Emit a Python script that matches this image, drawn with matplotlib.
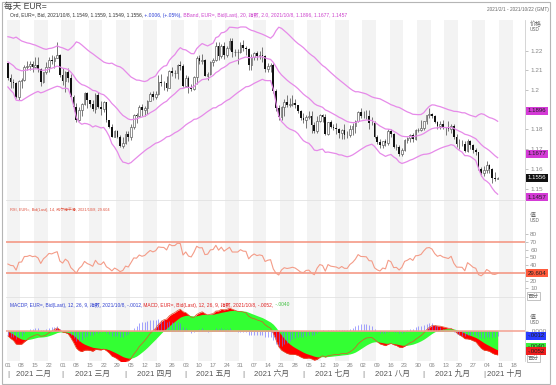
import numpy as np
import pandas as pd
import matplotlib
matplotlib.use('Agg')
import matplotlib.pyplot as plt
from matplotlib.patches import Rectangle

plt.rcParams['font.family'] = ['Liberation Sans', 'Noto Sans CJK SC', 'DejaVu Sans']

W, H = 556, 385

# ---------------- data (EUR= daily, 2021/2/1 .. 2021/10/8) ----------------
OPEN = [1.2137,1.2061,1.2040,1.2035,1.1963,1.2047,1.2050,1.2119,1.2120,1.2133,1.2119,1.2125,1.2106,1.2040,1.2090,1.2117,1.2155,1.2150,1.2165,1.2177,
        1.2075,1.2048,1.2091,1.2063,1.1965,1.1915,1.1848,1.1900,1.1928,1.1986,1.1950,1.1930,1.1902,1.1976,1.1915,1.1905,1.1938,1.1850,1.1815,1.1762,1.1794,1.1763,1.1718,
        1.1730,1.1778,1.1762,1.1813,1.1875,1.1871,1.1915,1.1899,1.1910,1.1946,1.1980,1.1965,1.1982,1.2039,1.2035,1.2034,1.2013,1.2098,1.2086,1.2088,1.2126,1.2123,
        1.2020,1.2061,1.2015,1.2005,1.2066,1.2165,1.2148,1.2151,1.2074,1.2080,1.2145,1.2151,1.2225,1.2172,1.2226,1.2180,1.2213,1.2249,1.2193,1.2193,1.2193,
        1.2228,1.2213,1.2211,1.2128,1.2166,1.2190,1.2172,1.2180,1.2173,1.2107,1.2120,1.2125,1.1996,1.1908,1.1863,1.1915,1.1940,1.1925,1.1930,1.1937,1.1925,1.1894,
        1.1857,1.1848,1.1865,1.1867,1.1822,1.1792,1.1842,1.1874,1.1862,1.1775,1.1838,1.1813,1.1806,1.1800,1.1780,1.1796,1.1771,1.1770,1.1800,1.1817,1.1844,1.1888,
        1.1871,1.1870,1.1868,1.1835,1.1833,1.1762,1.1735,1.1720,1.1740,1.1730,1.1794,1.1779,1.1710,1.1712,1.1677,1.1697,1.1746,1.1756,1.1772,1.1753,1.1795,1.1798,
        1.1808,1.1843,1.1875,1.1880,1.1870,1.1838,1.1817,1.1826,1.1813,1.1807,1.1802,1.1817,1.1764,1.1727,1.1726,1.1725,1.1690,1.1740,1.1720,1.1695,1.1684,1.1600,
        1.1580,1.1595,1.1620,1.1598,1.1555,1.1549]
HIGH = [1.2140,1.2080,1.2057,1.2040,1.2050,1.2062,1.2129,1.2150,1.2149,1.2150,1.2169,1.2170,1.2110,1.2093,1.2145,1.2170,1.2180,1.2175,1.2243,1.2183,
        1.2113,1.2098,1.2114,1.2080,1.1975,1.1932,1.1912,1.1933,1.1990,1.1990,1.1950,1.1952,1.1986,1.1989,1.1944,1.1944,1.1940,1.1850,1.1830,1.1799,1.1798,1.1771,1.1762,
        1.1790,1.1792,1.1826,1.1878,1.1883,1.1926,1.1928,1.1917,1.1949,1.1990,1.1994,1.1995,1.2079,1.2080,1.2048,1.2070,1.2103,1.2116,1.2102,1.2130,1.2150,1.2130,
        1.2077,1.2072,1.2030,1.2070,1.2173,1.2180,1.2181,1.2160,1.2090,1.2150,1.2165,1.2245,1.2245,1.2236,1.2244,1.2225,1.2266,1.2262,1.2210,1.2210,1.2242,
        1.2254,1.2225,1.2215,1.2185,1.2194,1.2196,1.2196,1.2218,1.2180,1.2135,1.2140,1.2139,1.2005,1.1925,1.1921,1.1955,1.1975,1.1960,1.1975,1.1954,1.1926,1.1900,
        1.1885,1.1875,1.1895,1.1895,1.1838,1.1868,1.1880,1.1880,1.1878,1.1838,1.1850,1.1826,1.1833,1.1810,1.1804,1.1830,1.1790,1.1822,1.1832,1.1849,1.1895,1.1909,
        1.1892,1.1898,1.1900,1.1865,1.1841,1.1770,1.1750,1.1741,1.1750,1.1804,1.1805,1.1780,1.1726,1.1719,1.1704,1.1750,1.1764,1.1778,1.1780,1.1802,1.1810,1.1846,
        1.1845,1.1875,1.1909,1.1885,1.1876,1.1844,1.1845,1.1848,1.1815,1.1845,1.1830,1.1828,1.1778,1.1750,1.1745,1.1740,1.1750,1.1747,1.1725,1.1705,1.1687,1.1610,
        1.1613,1.1640,1.1626,1.1603,1.1585,1.1559]
LOW = [1.2051,1.2011,1.2013,1.1958,1.1952,1.2013,1.2046,1.2100,1.2102,1.2092,1.2112,1.2091,1.2023,1.2035,1.2081,1.2090,1.2130,1.2110,1.2161,1.2064,
       1.2027,1.1992,1.2040,1.1962,1.1892,1.1836,1.1843,1.1868,1.1925,1.1910,1.1912,1.1892,1.1884,1.1910,1.1875,1.1887,1.1839,1.1808,1.1760,1.1762,1.1758,1.1712,1.1704,
       1.1725,1.1740,1.1747,1.1805,1.1834,1.1861,1.1868,1.1871,1.1877,1.1945,1.1950,1.1956,1.1975,1.2020,1.2002,1.1995,1.2010,1.2072,1.2060,1.2058,1.2100,1.2016,
       1.2017,1.1986,1.1993,1.2000,1.2030,1.2130,1.2130,1.2072,1.2052,1.2078,1.2122,1.2150,1.2152,1.2165,1.2160,1.2170,1.2203,1.2170,1.2175,1.2133,1.2188,
       1.2200,1.2180,1.2104,1.2103,1.2154,1.2154,1.2160,1.2144,1.2093,1.2093,1.2094,1.1987,1.1892,1.1847,1.1848,1.1870,1.1914,1.1915,1.1920,1.1910,1.1885,1.1847,
       1.1835,1.1807,1.1855,1.1782,1.1782,1.1780,1.1837,1.1838,1.1773,1.1772,1.1807,1.1795,1.1779,1.1755,1.1752,1.1752,1.1755,1.1760,1.1770,1.1781,1.1840,1.1856,
       1.1860,1.1853,1.1800,1.1821,1.1755,1.1725,1.1706,1.1705,1.1715,1.1723,1.1764,1.1706,1.1694,1.1666,1.1664,1.1690,1.1730,1.1735,1.1735,1.1746,1.1785,1.1792,
       1.1795,1.1830,1.1857,1.1856,1.1834,1.1801,1.1802,1.1805,1.1770,1.1790,1.1780,1.1750,1.1709,1.1700,1.1714,1.1685,1.1684,1.1700,1.1680,1.1668,1.1592,1.1563,
       1.1562,1.1580,1.1580,1.1529,1.1540,1.1549]
CLOSE = [1.2061,1.2040,1.2035,1.1963,1.2047,1.2050,1.2119,1.2120,1.2133,1.2119,1.2125,1.2106,1.2040,1.2090,1.2117,1.2155,1.2150,1.2165,1.2177,1.2075,
         1.2048,1.2091,1.2063,1.1965,1.1915,1.1848,1.1900,1.1928,1.1986,1.1950,1.1930,1.1902,1.1976,1.1915,1.1905,1.1938,1.1850,1.1815,1.1762,1.1794,1.1763,1.1718,1.1730,
         1.1778,1.1762,1.1813,1.1875,1.1871,1.1915,1.1899,1.1910,1.1946,1.1980,1.1965,1.1982,1.2039,1.2035,1.2034,1.2013,1.2098,1.2086,1.2088,1.2126,1.2123,1.2020,
         1.2061,1.2015,1.2005,1.2066,1.2165,1.2148,1.2151,1.2074,1.2080,1.2145,1.2151,1.2225,1.2172,1.2226,1.2180,1.2213,1.2249,1.2193,1.2193,1.2193,1.2228,
         1.2213,1.2211,1.2128,1.2166,1.2190,1.2172,1.2180,1.2173,1.2107,1.2120,1.2125,1.1996,1.1908,1.1863,1.1915,1.1940,1.1925,1.1930,1.1937,1.1925,1.1894,1.1857,
         1.1848,1.1865,1.1867,1.1822,1.1792,1.1842,1.1874,1.1862,1.1775,1.1838,1.1813,1.1806,1.1800,1.1780,1.1796,1.1771,1.1770,1.1800,1.1817,1.1844,1.1888,1.1871,
         1.1870,1.1868,1.1835,1.1833,1.1762,1.1735,1.1720,1.1740,1.1730,1.1794,1.1779,1.1710,1.1712,1.1677,1.1697,1.1746,1.1756,1.1772,1.1753,1.1795,1.1798,1.1808,
         1.1843,1.1875,1.1880,1.1870,1.1838,1.1817,1.1826,1.1813,1.1807,1.1802,1.1817,1.1764,1.1727,1.1726,1.1725,1.1690,1.1740,1.1720,1.1695,1.1684,1.1600,1.1580,
         1.1595,1.1620,1.1598,1.1555,1.1550,1.1556]
# closes before the chart window (2020/11/2 .. 2021/1/29), used only to warm up the studies
WARMUP_CLOSE = [1.1642,1.1715,1.1722,1.1830,1.1875,1.1812,1.1815,1.1780,1.1810,1.1835,1.1855,1.1860,1.1850,1.1870,1.1855,1.1840,1.1890,1.1915,1.1918,1.1963,1.1927,
                1.2071,1.2114,1.2145,1.2121,1.2107,1.2105,1.2079,1.2137,1.2109,1.2148,1.2157,1.2198,1.2265,1.2256,1.2239,1.2164,1.2188,1.2185,1.2186,1.2215,1.2249,1.2298,1.2216,
                1.2214,1.2248,1.2297,1.2325,1.2270,1.2220,1.2152,1.2206,1.2157,1.2155,1.2078,1.2077,1.2131,1.2107,1.2166,1.2171,1.2142,1.2160,1.2110,1.2118,1.2137]

TICK_LABELS = ["01","08","15","22","01","08","15","22","29","05","12","19","26","03","10","17","24","31",
               "07","14","21","28","05","12","19","26","02","09","16","23","30","06","13","20","27","04","11","18"]
MONTH_LABELS = ["2021 二月","2021 三月","2021 四月","2021 五月","2021 六月","2021 七月","2021 八月","2021 九月","2021 十月"]
BB_LAST = [1.1896, 1.1677, 1.1457]
LAST_PRICE = 1.1556
RSI_LAST = 29.604
MACD_LAST = [-0.0012, -0.0052, -0.0040]   # histogram, MACD, signal
PRICE_TICKS = [1.15, 1.16, 1.17, 1.18, 1.19, 1.2, 1.21, 1.22]
PRICE_TICK_LABELS = ["1.15", "1.16", "1.17", "1.18", "", "1.2", "1.21", "1.22"]   # 1.19 hidden by the band box
RSI_TICKS = [10, 20, 30, 40, 50, 60, 70, 80]
RSI_TICK_LABELS = ["10", "20", "", "40", "50", "60", "70", "80"]                # 30 hidden by the RSI box

# ---------------- studies ----------------
def ema(v, span):
    a = 2.0 / (span + 1)
    out = np.empty_like(v)
    out[0] = v[0]
    for i in range(1, len(v)):
        out[i] = a * v[i] + (1 - a) * out[i - 1]
    return out

allc = np.array(WARMUP_CLOSE + CLOSE, dtype=float)
k0 = len(WARMUP_CLOSE)
mid = ema(allc, 20)
sd = np.sqrt(ema((allc - mid) ** 2, 20))
bb_up, bb_lo = mid + 2 * sd, mid - 2 * sd

d = np.diff(allc)
gain, loss = np.clip(d, 0, None), np.clip(-d, 0, None)
ag, al = gain[:14].mean(), loss[:14].mean()
rsi = np.full(len(allc), np.nan)
rsi[14] = 100 - 100 / (1 + ag / al)
for i in range(14, len(d)):
    ag = (ag * 13 + gain[i]) / 14
    al = (al * 13 + loss[i]) / 14
    rsi[i + 1] = 100 - 100 / (1 + ag / al)

macd = ema(allc, 12) - ema(allc, 26)
sig = ema(macd, 9)
hist = macd - sig

# ---------------- figure ----------------
fig = plt.figure(figsize=(W / 100, H / 100), dpi=100)
fig.patch.set_facecolor('white')

def axrect(top, bottom, left=6, right=525):
    return [left / W, 1 - bottom / H, (right - left) / W, (bottom - top) / H]

ax_main = fig.add_axes(axrect(20, 200))
ax_rsi = fig.add_axes(axrect(200, 297))
ax_macd = fig.add_axes(axrect(297, 361))
axes = [ax_main, ax_rsi, ax_macd]

dates = pd.bdate_range('2021-02-01', '2021-10-22')
n_all = len(dates)
mondays = np.where(dates.dayofweek == 0)[0]
month_starts = [0] + [i for i in range(1, n_all) if dates[i].month != dates[i - 1].month]
x = np.arange(len(CLOSE))
XMIN, XMAX = -0.7, n_all - 1.0

for ax in axes:
    ax.set_xlim(XMIN, XMAX)
    ax.set_facecolor('white')
    for wk, m in enumerate(mondays):
        if wk % 2 == 0:
            ax.axvspan(m - 0.5, m + 4.5, color='#f3f3f3', lw=0, zorder=0)
    ax.spines['left'].set_visible(False)
    ax.spines['bottom'].set_visible(False)
    ax.spines['top'].set_color('#e2e2e2')
    ax.spines['top'].set_linewidth(0.6)
    ax.spines['right'].set_color('#cfcfcf')
    ax.spines['right'].set_linewidth(0.6)
    ax.yaxis.tick_right()
    ax.tick_params(axis='y', length=2.5, width=0.5, color='#aaaaaa', labelsize=4.6,
                   labelcolor='#888888', pad=1.2)
    ax.set_xticks([])
ax_main.spines['top'].set_visible(False)

# main: candles + bollinger
o, h, l, c = (np.array(v, dtype=float) for v in (OPEN, HIGH, LOW, CLOSE))
up = c >= o
ax_main.vlines(x, l, h, color='#444444', lw=0.5, zorder=2)
body = np.maximum(np.abs(c - o), 0.00008)
bot = np.minimum(o, c)
ax_main.bar(x[up], body[up], bottom=bot[up], width=0.62, facecolor='white',
            edgecolor='#555555', lw=0.45, zorder=3)
ax_main.bar(x[~up], body[~up], bottom=bot[~up], width=0.62, color='#111111', lw=0, zorder=3)
bb_col = '#e68ae9'
for series in (bb_up, mid, bb_lo):
    ax_main.plot(x, series[k0:], color=bb_col, lw=0.9, zorder=4)
ax_main.set_ylim(1.14421, 1.23558)
ax_main.set_yticks(PRICE_TICKS)
ax_main.set_yticklabels(PRICE_TICK_LABELS)

# RSI
rsi_col = '#f4917c'
ax_rsi.axhline(70, color=rsi_col, lw=1.1, zorder=2)
ax_rsi.axhline(30, color=rsi_col, lw=1.1, zorder=2)
ax_rsi.plot(x, rsi[k0:], color='#f49c88', lw=0.8, zorder=3)
ax_rsi.set_ylim(-1, 124.2)
ax_rsi.set_yticks(RSI_TICKS)
ax_rsi.set_yticklabels(RSI_TICK_LABELS)

# MACD
ax_macd.fill_between(x, 0, macd[k0:], color='#ff0000', lw=0, zorder=2)
ax_macd.fill_between(x, 0, sig[k0:], color='#33ff33', lw=0, zorder=3)
ax_macd.vlines(x, 0, hist[k0:], color='#6f6fff', lw=0.6, alpha=0.75, zorder=4)
ax_macd.plot(x, macd[k0:], color='#e0502a', lw=0.5, zorder=5)
ax_macd.axhline(0, color='#f4a090', lw=1.1, zorder=6)
ax_macd.set_ylim(-0.00765, 0.00867)
ax_macd.set_yticks([0])
ax_macd.set_yticklabels(['.0000'])
ax_macd.set_xticks(mondays)
ax_macd.set_xticklabels(TICK_LABELS)
ax_macd.tick_params(axis='x', length=0, pad=1.6, labelsize=4.4, labelcolor='#888888')

# ---------------- text helpers ----------------
renderer = fig.canvas.get_renderer()

def ftext(xp, yp, s, **kw):
    return fig.text(xp / W, 1 - yp / H, s, **kw)

def data_px(ax, xv, yv):
    dx, dy = ax.transData.transform((xv, yv))
    return dx, H - dy

def seg_text(x0, y, segs, fs, target_w=None):
    def draw(size):
        arts, xc = [], x0
        for s, col in segs:
            t = ftext(xc, y, s, fontsize=size, color=col, va='center', ha='left')
            bb = t.get_window_extent(renderer)
            xc = bb.x1
            arts.append(t)
        return arts, xc - x0
    arts, w = draw(fs)
    if target_w:
        for a in arts:
            a.remove()
        arts, w = draw(fs * target_w / w)
    return arts

# titles / legends
ftext(4, 6.5, '每天 EUR=', fontsize=6.2, color='#444444', va='center', ha='left')
ftext(549, 10, '2021/2/1 - 2021/10/22 (GMT)', fontsize=3.4, color='#666666', va='center', ha='right')
seg_text(10, 15, [('Ord, EUR=, Bid, 2021/10/8, 1.1549, 1.1559, 1.1549, 1.1556,', '#333333'),
                  (' +.0006, (+.05%),', '#2a3cd6'),
                  (' BBand, EUR=, Bid(Last), 20, 指数, 2.0, 2021/10/8, 1.1896, 1.1677, 1.1457', '#cc44cc')],
         4.0, target_w=333)
seg_text(10, 210, [('RSI, EUR=, Bid(Last), 14, 威尔德平滑, 2021/10/8, 29.604', '#e0503c')], 4.0, target_w=97)
seg_text(10, 305, [('MACDP, EUR=, Bid(Last), 12, 26, 9, 指数, 2021/10/8, -.0012,', '#3040d0'),
                   (' MACD, EUR=, Bid(Last), 12, 26, 9, 指数, 2021/10/8, -.0052,', '#e02020'),
                   (' -.0040', '#40c040')], 4.0, target_w=278)

# axis unit labels
for (yy1, yy2, s1) in [(24, 29.5, '价格'), (215, 220.5, '值'), (317, 322.5, '值')]:
    ftext(530, yy1, s1, fontsize=4.3, color='#666666', va='center', ha='left')
    ftext(530, yy2, 'USD', fontsize=3.4, color='#666666', va='center', ha='left')
for yy in (296, 358):
    ftext(528, yy, '百分', fontsize=4.0, color='#666666', va='center', ha='left',
          bbox=dict(boxstyle='square,pad=0.2', fc='white', ec='#aaaaaa', lw=0.5))

# value boxes on the right axis
def vbox(ax, val, txt, fc, tc='#222222'):
    _, yp = data_px(ax, 0, val)
    ftext(527.5, yp, txt, fontsize=4.4, color=tc, va='center', ha='left', zorder=10,
          bbox=dict(boxstyle='square,pad=0.25', fc=fc, ec='none'))

vbox(ax_main, BB_LAST[0], '1.1896', '#d43ad6')
vbox(ax_main, BB_LAST[1], '1.1677', '#d43ad6')
vbox(ax_main, LAST_PRICE, '1.1556', '#111111', tc='white')
vbox(ax_main, BB_LAST[2], '1.1457', '#d43ad6')
vbox(ax_rsi, RSI_LAST, '29.604', '#ff5a3c')
vbox(ax_macd, MACD_LAST[0], '-.0012', '#2a3cff')
vbox(ax_macd, MACD_LAST[2], '-.0040', '#3cf03c')
vbox(ax_macd, MACD_LAST[1], '-.0052', '#f01e1e')

# month row
starts = month_starts + [n_all]
for j, lab in enumerate(MONTH_LABELS):
    s, e = starts[j], starts[j + 1] - 1
    xc, _ = data_px(ax_macd, (s + e) / 2.0, 0)
    ftext(xc, 374, lab, fontsize=5.6, color='#555555', va='center', ha='center')
    xs, _ = data_px(ax_macd, s, 0)
    ftext(xs, 374, '|', fontsize=5.6, color='#777777', va='center', ha='center')

# outer frame
fig.patches.append(Rectangle((2 / W, 1 / H), 548 / W, 382 / H, transform=fig.transFigure,
                             fill=False, ec='#b5b5b5', lw=0.8))

fig.savefig('out.png', dpi=100, facecolor='white')
